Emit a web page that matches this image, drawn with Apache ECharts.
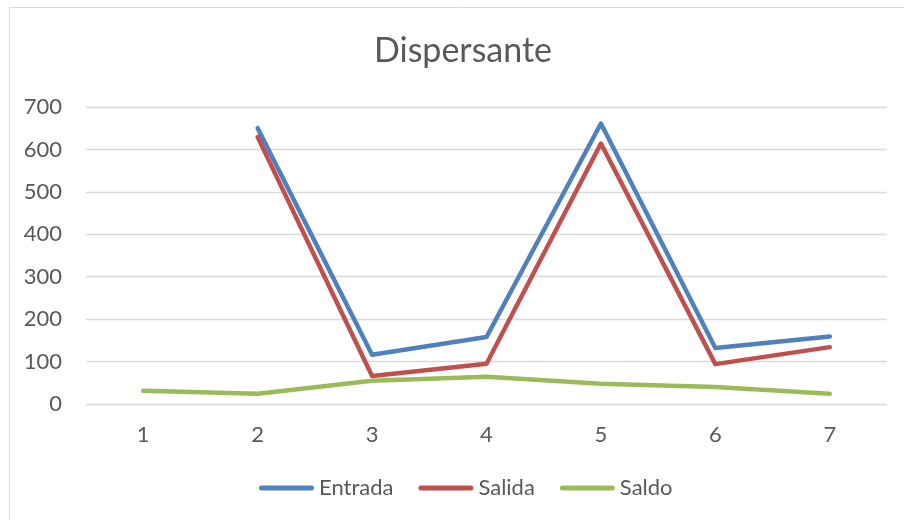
<!DOCTYPE html>
<html>
<head>
<meta charset="utf-8">
<script src="https://cdn.jsdelivr.net/npm/echarts@6/dist/echarts.min.js"></script>
<style>html,body{margin:0;padding:0;background:#fff;}#c{width:904px;height:520px;}</style>
</head>
<body>
<div id="c"></div>
<script>
var titleText = 'Dispersante';
var categories = ['1', '2', '3', '4', '5', '6', '7'];
var entrada = [null, 650, 116, 158, 661, 132, 159];
var salida = [null, 629, 66, 95, 614, 94, 134];
var saldo = [31, 24, 55, 64, 48, 40, 24];

var chart = echarts.init(document.getElementById('c'), null, {renderer: 'canvas'});
var font = 'Lato, "Open Sans", sans-serif';
var txt = '#595959';
function lineSeries(name, data, color) {
  return {
    name: name, type: 'line', data: data, symbol: 'none',
    lineStyle: {color: color, width: 4.5, cap: 'round', join: 'round'},
    itemStyle: {color: color},
    animation: false
  };
}
var icon = 'path://M2.5,0 L52.5,0 A2.5,2.5 0 0 1 52.5,5 L2.5,5 A2.5,2.5 0 0 1 2.5,0 Z';
chart.setOption({
  animation: false,
  graphic: [{
    type: 'rect', silent: true,
    shape: {x: 9.5, y: 7.5, width: 930, height: 540},
    style: {fill: 'none', stroke: '#d9d9d9', lineWidth: 1}
  }],
  title: {
    text: titleText, left: 458, top: 29, textAlign: 'center',
    textStyle: {fontFamily: font, fontSize: 34, fontWeight: 'normal', color: txt}
  },
  legend: {
    left: 254, top: 472, itemWidth: 55, itemHeight: 5, itemGap: 25, icon: icon,
    textStyle: {fontFamily: font, fontSize: 22, color: txt},
    data: ['Entrada', 'Salida', 'Saldo']
  },
  grid: {left: 86, right: 17, top: 107, bottom: 116, containLabel: false},
  xAxis: {
    type: 'category', data: categories, boundaryGap: true,
    axisLine: {show: false}, axisTick: {show: false},
    axisLabel: {fontFamily: font, fontSize: 22, color: txt, margin: 20}
  },
  yAxis: {
    type: 'value', min: 0, max: 700, interval: 100,
    axisLine: {show: false}, axisTick: {show: false},
    splitLine: {lineStyle: {color: '#d9d9d9', width: 1.3}},
    axisLabel: {fontFamily: font, fontSize: 22, color: txt, margin: 24}
  },
  series: [
    lineSeries('Entrada', entrada, '#4F81BD'),
    lineSeries('Salida', salida, '#C0504D'),
    lineSeries('Saldo', saldo, '#9BBB59')
  ]
});
</script>
</body>
</html>
